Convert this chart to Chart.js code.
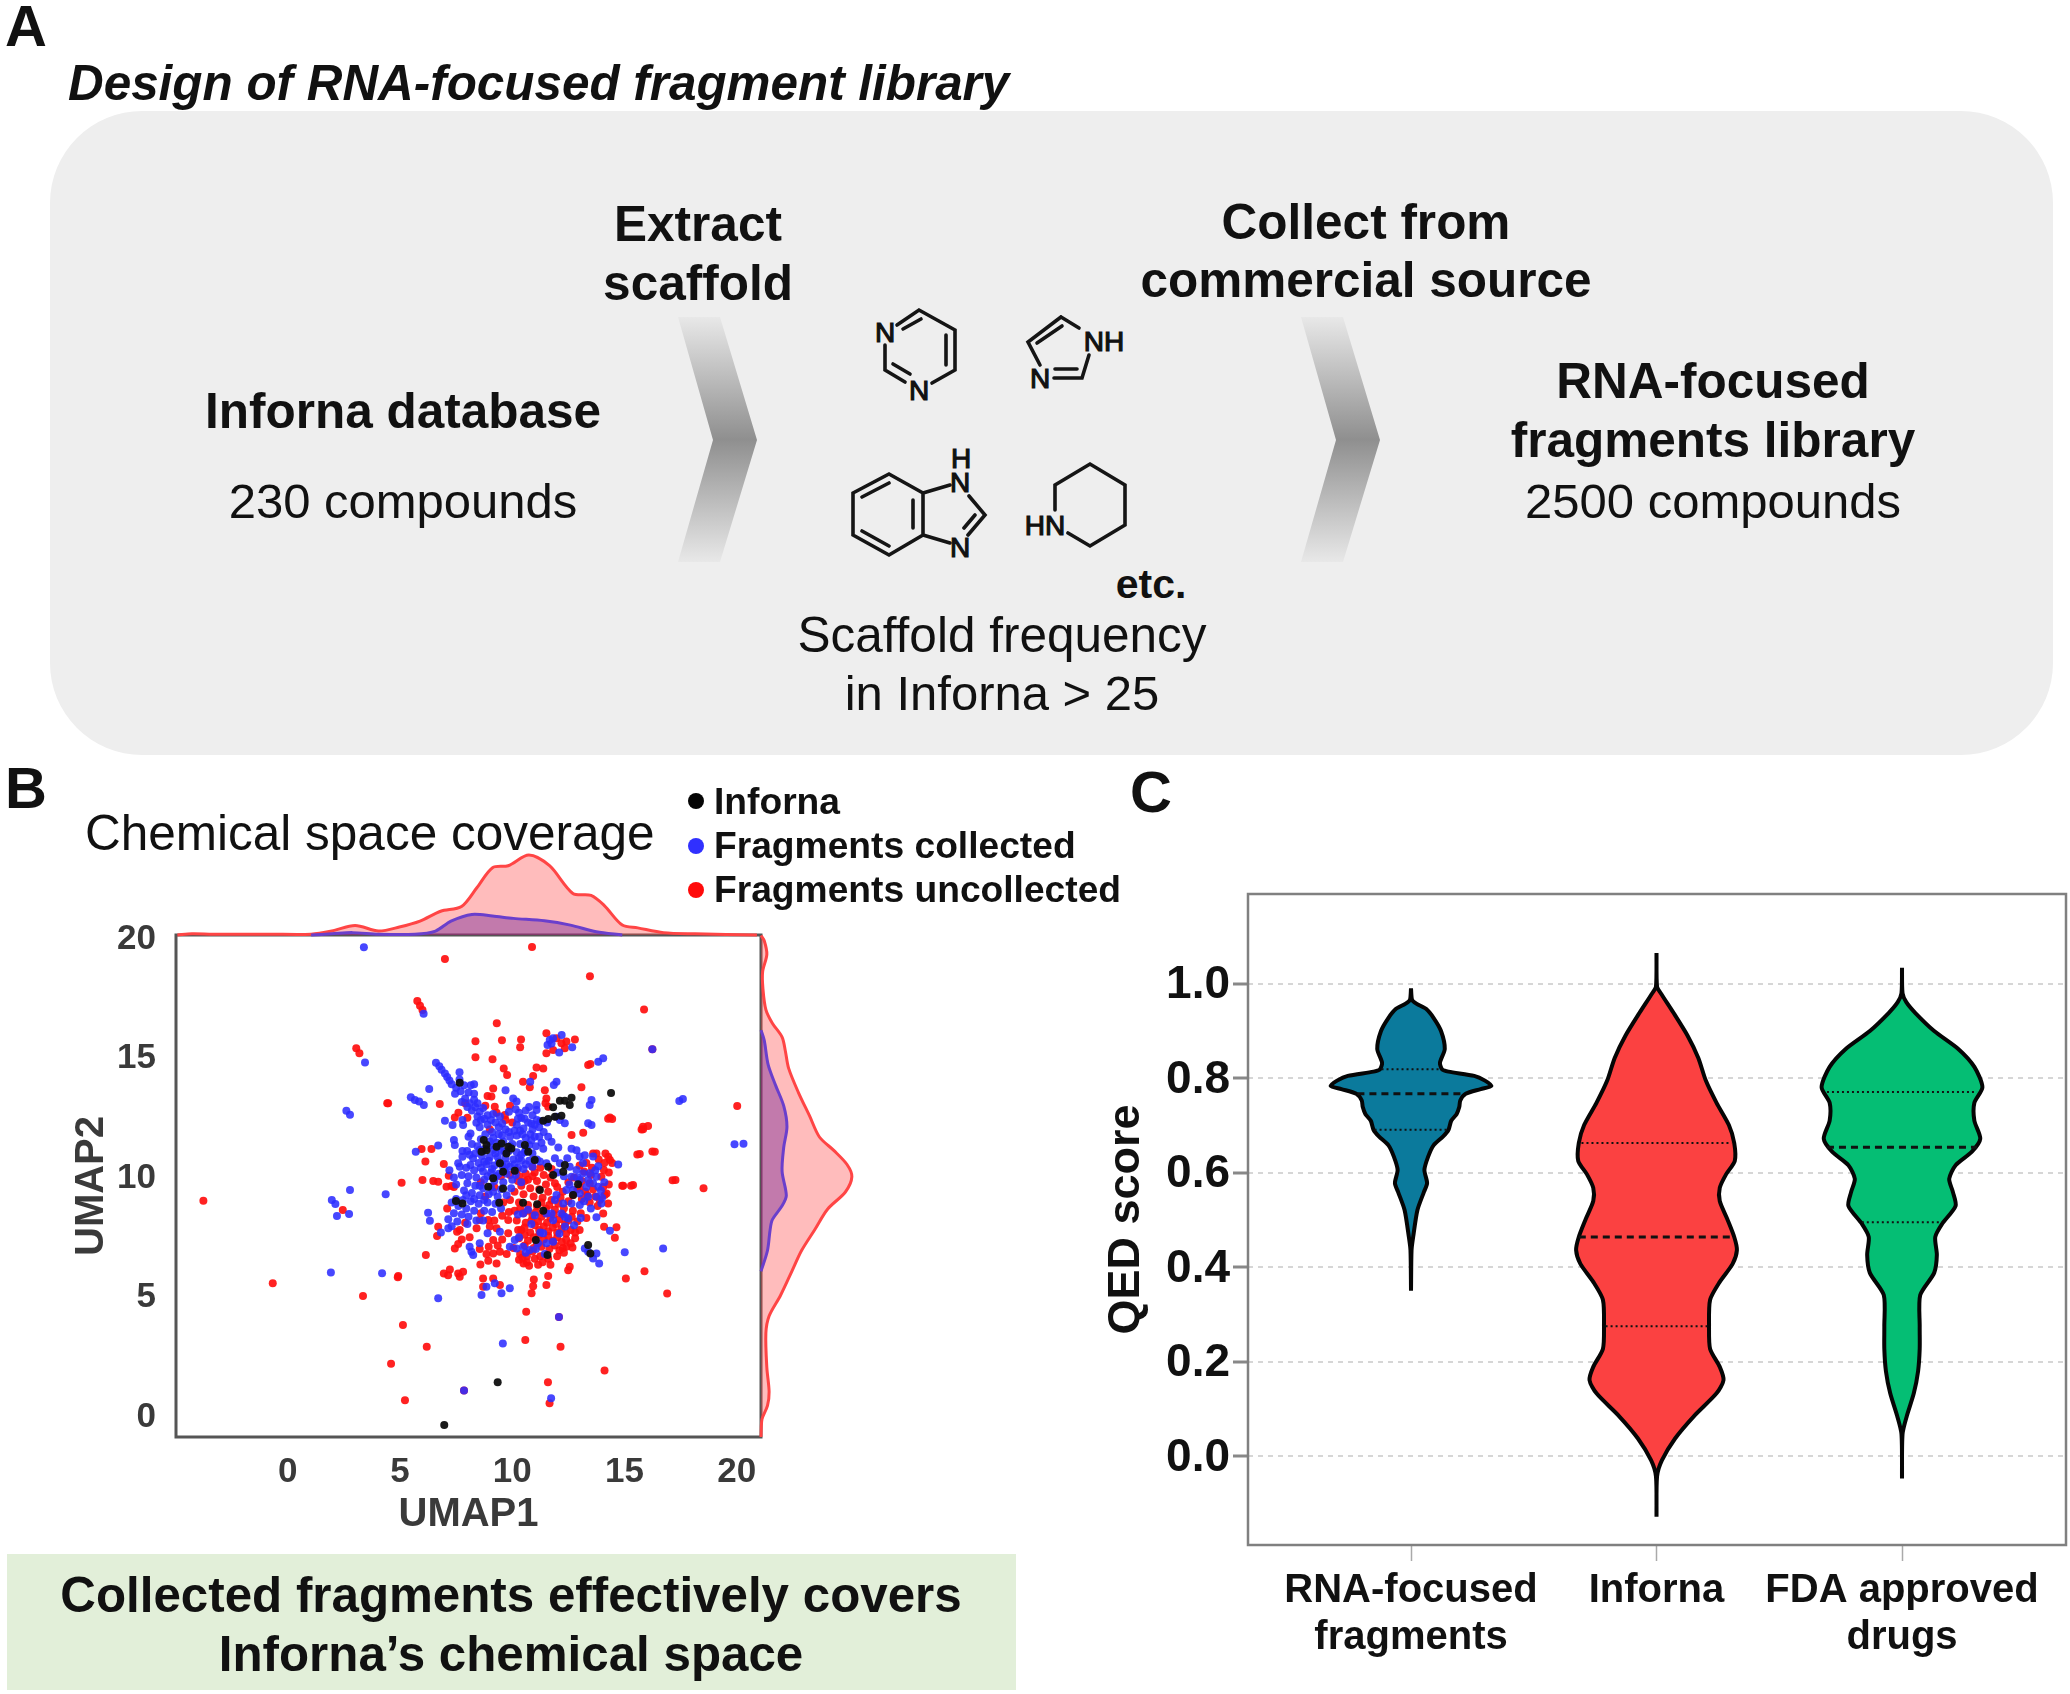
<!DOCTYPE html>
<html><head><meta charset="utf-8">
<script src="https://cdn.jsdelivr.net/npm/chart.js@4"></script>
<style>
html,body{margin:0;padding:0;background:#fff;}
#page{position:relative;width:2070px;height:1694px;overflow:hidden;font-family:"Liberation Sans",Arial,sans-serif;color:#111;filter:blur(0.5px);}
canvas{position:absolute;}
.t{position:absolute;white-space:nowrap;transform:translate(-50%,-50%);line-height:1;}
.l{position:absolute;white-space:nowrap;transform:translateY(-50%);line-height:1;}
.b{font-weight:bold;}
.dot{position:absolute;width:16px;height:16px;border-radius:50%;transform:translate(-50%,-50%);}
#panel{position:absolute;left:50px;top:111px;width:2003px;height:644px;background:#eeeeee;border-radius:92px;}
#note{position:absolute;left:7px;top:1554px;width:1009px;height:136px;background:#e2efd9;}
svg{position:absolute;left:0;top:0;}
</style></head><body><div id="page">
<div id="panel"></div><div id="note"></div>
<svg width="2070" height="1694" viewBox="0 0 2070 1694">
<defs><linearGradient id="g" x1="0" y1="0" x2="0" y2="1"><stop offset="0" stop-color="#e8e8e8"/><stop offset="0.5" stop-color="#8f8f8f"/><stop offset="1" stop-color="#e8e8e8"/></linearGradient></defs>
<polygon points="678,317 720,317 757,440 720,562 678,562 713,440" fill="url(#g)"/>
<polygon points="1301,317 1343,317 1380,440 1343,562 1301,562 1336,440" fill="url(#g)"/>
<g stroke="#151515" stroke-width="3.6" fill="none" stroke-linecap="round">
<path d="M897 325L919 310L955 330V370L932 383M903 329L921 319M946 335V365M885 345V370L905 382M893 364L910 374"/>
<path d="M1061 317L1079 328M1089 355L1082 378H1054M1077 369H1055M1040 365L1028 342L1061 317M1037 343L1062 326"/>
<path d="M889 474L923 493V535L889 555L853 535V493ZM862 497L889 483M862 531L889 546M913 500V528M923 493L950 485M923 535L950 543M969 496L985 515L968 535M975 515L964 528"/>
<path d="M1068 533L1090 546L1125 525V485L1090 464L1055 485V510"/>
</g>
<g font-family="Liberation Sans" font-size="28" fill="#111" stroke="#111" stroke-width="1.2" text-anchor="middle">
<text x="885" y="342">N</text><text x="919" y="400">N</text><text x="1104" y="351">NH</text><text x="1040" y="388">N</text>
<text x="961" y="468">H</text><text x="960" y="492">N</text><text x="960" y="557">N</text><text x="1045" y="535">HN</text>
</g></svg>

<div class="t b" style="left:26px;top:26px;font-size:58px;">A</div>
<div class="l b" style="left:68px;top:83px;font-size:49.4px;font-style:italic;">Design of RNA-focused fragment library</div>
<div class="t b" style="left:403px;top:411px;font-size:49.5px;">Inforna database</div>
<div class="t" style="left:403px;top:501px;font-size:49px;">230 compounds</div>
<div class="t b" style="left:698px;top:224px;font-size:49.5px;">Extract</div>
<div class="t b" style="left:698px;top:283px;font-size:49.5px;">scaffold</div>
<div class="t b" style="left:1366px;top:222px;font-size:49.5px;">Collect from</div>
<div class="t b" style="left:1366px;top:280px;font-size:49.5px;">commercial source</div>
<div class="t b" style="left:1713px;top:381px;font-size:49.5px;">RNA-focused</div>
<div class="t b" style="left:1713px;top:440px;font-size:49.5px;">fragments library</div>
<div class="t" style="left:1713px;top:501px;font-size:49px;">2500 compounds</div>
<div class="t b" style="left:1151px;top:584px;font-size:41px;">etc.</div>
<div class="t" style="left:1002px;top:635px;font-size:49.5px;">Scaffold frequency</div>
<div class="t" style="left:1002px;top:693px;font-size:49px;">in Inforna &gt; 25</div>

<div class="t b" style="left:26px;top:788px;font-size:58px;">B</div>
<div class="t b" style="left:1151px;top:792px;font-size:58px;">C</div>
<div class="l" style="left:85px;top:833px;font-size:49.5px;">Chemical space coverage</div>
<div class="dot" style="left:696px;top:801px;background:#050505;"></div>
<div class="dot" style="left:696px;top:846px;background:#3030ff;"></div>
<div class="dot" style="left:696px;top:890px;background:#ff0a0a;"></div>
<div class="l b" style="left:714px;top:802px;font-size:37.2px;">Inforna</div>
<div class="l b" style="left:714px;top:846px;font-size:37.2px;">Fragments collected</div>
<div class="l b" style="left:714px;top:890px;font-size:37.2px;">Fragments uncollected</div>
<div class="t b" style="left:511px;top:1595px;font-size:49.3px;">Collected fragments effectively covers</div>
<div class="t b" style="left:511px;top:1654px;font-size:49.3px;">Inforna’s chemical space</div>

<canvas id="scatter" width="720" height="640" style="left:60px;top:905px;"></canvas>
<canvas id="topKde" width="610" height="100" style="left:166px;top:840px;"></canvas>
<canvas id="rightKde" width="110" height="520" style="left:755px;top:925px;"></canvas>
<canvas id="violin" width="970" height="814" style="left:1100px;top:880px;"></canvas>
</div>
<script>
// ---------- Panel B: scatter values ----------
const umapXTicks=[0,5,10,15,20];
const umapYTicks=[0,5,10,15,20];
const inforna=[[6.97,-0.46],[9.35,1.33],[14.4,13.43],[12.64,13.23],[12.56,12.93],[12.34,13.11],[12.12,13.11],[11.82,12.83],[12.19,12.48],[11.9,12.44],[11.6,12.34],[11.38,12.27],[7.66,13.86],[8.73,11.46],[8.85,11.25],[9.3,11.18],[9.52,11.32],[9.82,11.18],[9.96,11.11],[9.74,10.9],[8.85,11.04],[8.63,10.97],[10.56,11.25],[10.71,10.97],[9.45,10.49],[9.59,10.14],[10.11,10.18],[11.0,10.63],[11.6,10.35],[11.82,10.0],[12.34,10.42],[12.27,10.14],[9.15,9.86],[9.59,9.44],[8.93,9.51],[11.23,9.37],[12.93,9.61],[12.71,9.16],[7.49,8.91],[7.78,8.81],[9.42,8.84],[10.48,8.84],[11.11,8.78],[11.38,8.5],[11.05,7.28],[13.38,7.07],[13.48,6.72],[11.57,6.65]];
const collected=[[1.92,5.92],[4.2,5.89],[4.36,9.2],[9.58,2.95],[16.72,6.93],[15.01,6.77],[17.44,13.1],[17.6,13.18],[19.9,11.29],[20.3,11.31],[3.39,19.53],[6.05,16.75],[3.44,14.71],[2.77,12.52],[2.61,12.69],[1.96,8.95],[2.12,8.79],[2.19,8.29],[2.73,8.37],[2.77,9.37],[11.73,0.66],[7.85,0.99],[16.24,15.26],[12.08,4.06],
[6.6,14.7],[6.85,14.4],[7.1,14.1],[7.3,13.8],[7.65,14.3],[7.65,14.0],[7.45,13.4],[7.7,13.5],[7.9,13.2],[8.3,13.8],[8.3,13.4],[8.1,13.0],[8.45,13.0],[8.2,12.7],[8.7,12.8],[8.9,12.5],[8.6,12.3],[8.9,12.1],[9.7,13.55],[10.8,13.9],[11.97,13.9],[11.85,13.76],[13.53,13.14],[13.45,12.93],[13.83,14.74],[14.05,14.88],[11.67,15.65],[11.57,15.44],[11.82,15.72],[11.75,15.5],[12.2,15.86],[12.09,15.12],[12.67,15.34],[5.48,13.25],[5.66,13.14],[5.85,13.07],[6.06,12.93],[6.3,13.6],[10.04,13.2],[10.19,13.07],[11.08,12.93],[11.08,12.72],[13.53,12.09],[13.38,12.16],[11.6,11.6],[11.75,11.39],[12.12,12.3],[12.34,12.16],[11.97,12.44],
[7,12.27],[7.34,12.09],[7.78,12.3],[7.81,12.09],[8.14,11.74],[8.4,12.19],[7.4,11.46],[7.44,11.25],[6.7,11.23],[5.7,10.97],[7.78,11.0],[7.99,11.0],[7.78,10.76],[7.59,10.49],[7.66,10.35],[8.14,10.42],
[10.6,12.7],[10.9,12.5],[10.4,12.4],[10.7,12.2],[11.1,12.3],[10.2,12.1],[10.5,11.95],[10.9,11.9],[11.2,12.0],[9.4,12.0],[9.7,11.9],[9.1,11.8],[8.8,11.7],[9.4,11.7],[9.9,11.6],[10.2,11.65],[10.6,11.55],[11.0,11.6],[8.6,11.5],[9.0,11.4],[9.3,11.35],[9.6,11.4],[10.0,11.3],[10.35,11.3],[10.75,11.25],[11.05,11.2],[8.45,11.2],[8.8,11.1],[9.15,11.05],[9.5,11.05],[9.85,11.0],[10.2,10.95],[10.55,10.95],[10.9,10.9],[8.35,10.9],[8.65,10.8],[9.0,10.75],[9.35,10.75],[9.7,10.7],[10.05,10.65],[10.4,10.6],[10.75,10.6],[11.1,10.65],[8.5,10.5],[8.85,10.45],[9.2,10.4],[9.55,10.4],[9.9,10.35],[10.25,10.3],[8.3,10.2],[8.7,10.15],[9.05,10.1],[9.4,10.05],[9.75,10.05],[10.15,10.0],
[8.05,9.95],[8.4,9.9],[8.75,9.8],[9.2,9.75],[9.6,9.7],[8.0,9.65],[8.35,9.55],[8.7,9.45],[9.05,9.5],[9.5,9.4],[7.85,9.35],[8.2,9.25],[8.55,9.15],[8.95,9.2],[9.35,9.1],[9.75,9.15],[7.5,9.0],[7.8,8.95],[8.15,8.9],[8.5,8.8],[8.9,8.85],[9.25,8.8],[7.3,8.85],[7.6,8.7],[7.95,8.6],[8.3,8.5],[8.75,8.5],[9.1,8.45],[7.75,8.35],[8.05,8.25],[8.4,8.1],[8.0,7.95],[6.25,8.42],[6.33,8.09],[6.82,7.6],[7.3,7.86],[7.15,7.77],[8.1,7.0],[8.18,6.79],[8.26,6.65],[8.55,7.14],[8.9,7.56],[9.45,7.63],
[11.38,11.1],[11.23,10.56],[11.52,10.49],[12.12,10.49],[12.64,11.1],[12.86,11.04],[13.0,10.77],[13.23,10.83],[13.6,10.77],[13.83,10.37],[14.72,10.44],[12.56,10.35],[12.86,10.21],[13.16,10.07],[13.45,10.07],[13.75,9.93],[12.64,9.93],[13.01,9.79],[13.38,9.79],[13.83,9.51],[12.41,9.37],[12.71,9.37],[13.01,9.23],[13.38,9.09],[13.75,9.09],[13.97,8.81],[11.97,9.16],[12.27,8.81],[12.64,8.81],[13.01,8.74],[11.9,8.95],[12.19,8.39],[12.49,8.18],[11.82,8.11],[12.34,8.25],[11.52,8.39],[11.0,8.32],[10.48,8.39],[11.38,7.56],[11.82,7.21],[11.75,8.39],
[9.89,7.0],[10.19,6.93],[10.48,7.0],[10.78,6.86],[11.15,7.14],[11.52,7.14],[10.11,7.28],[14.35,7.67],[13.75,8.23],[13.23,6.93],[13.38,6.79],[13.75,6.72],[13.6,6.51],[13.87,6.3],[8.85,5.33],[9.22,5.47],[9.52,5.05],[9.89,5.26],[8.63,4.98],[6.7,4.84],
[9.05,12.3],[9.45,12.45],[9.85,12.65],[10.15,12.75],[8.55,12.0],[9.25,12.2],[10.85,12.15],[11.4,11.8],[11.3,11.35],[11.55,12.2],[8.2,11.3],[8.05,11.6],[8.25,10.7],[8.1,10.85],[9.15,11.55],[9.55,11.65],[10.1,11.85],[10.45,11.7],[10.85,11.45],[9.9,11.2],[9.25,10.9],[9.65,10.95],[10.4,10.85],[10.1,10.45],[8.95,10.6],[9.4,10.55],[8.6,10.3],[9.1,10.25],[9.65,10.2],[10.5,10.25],[10.9,10.35],
[7.2,10.2],[7.4,9.9],[7.75,10.0],[7.5,9.6],[7.95,10.3],[8.9,9.95],[9.3,9.95],[8.55,9.55],[9.15,9.3],[7.95,9.15],[8.3,9.0],[8.75,8.95],[9.5,8.6],[7.4,8.4],[7.15,8.15],[7.55,8.05],[8.7,8.1],[10.0,9.8],[10.4,9.7],[9.95,9.45],[10.7,8.55],[10.25,8.35],[10.85,7.95],[10.3,7.4],[11.25,7.6],[11.05,6.9],[11.45,6.7],[10.6,6.75],[12.1,7.55],[12.35,7.85],[12.75,7.9],[13.05,8.2],[12.55,9.6],[12.3,9.95],[12.9,9.9],[13.3,9.5],[13.6,9.65],[13.95,9.35],[13.2,8.9],[13.5,8.6],[12.0,10.1],[12.45,10.7],[11.9,10.7],[12.05,11.15],[13.15,10.5],[13.7,10.2],[14.1,9.7],[14.0,9.05],
[6.75,14.55],[7.0,14.25],[7.2,13.95],[7.5,13.65],[7.85,13.75],[8.05,13.45],[8.15,13.75],[7.75,13.05],[8.0,12.85],[8.3,13.15],[8.55,12.65],[8.45,12.45],[8.75,12.35],[9.15,12.55],[8.35,12.85],[10.3,12.6],[10.55,12.35],[10.25,12.35],[10.75,12.85],[11.0,12.1],[11.25,12.25],[10.35,11.85],[9.55,12.15],[9.85,11.8],[10.8,11.7],[11.2,11.6],[10.6,11.1],[9.05,11.25],[9.4,11.2],[8.55,11.05],[8.75,10.55],[9.75,10.45],[10.3,10.7],[10.6,10.45]];
const uncollected=[[-3.76,8.92],[-0.67,5.47],[3.35,4.94],[4.9,5.72],[5.13,3.73],[6.19,2.82],[4.6,2.1],[5.22,0.58],[10.58,3.1],[10.62,4.28],[12.15,2.82],[14.11,1.82],[11.59,1.33],[11.66,0.45],[15.06,5.67],[15.89,5.97],[16.9,5.04],[17.14,9.78],[18.52,9.45],[20.02,12.89],[16.24,10.98],[15.57,10.86],[15.82,12.02],[15.76,11.9],[14.27,12.35],[15.87,16.92],[13.46,18.31],[10.88,19.54],[7.0,19.04],[5.77,17.28],[5.89,17.08],[6.0,16.9],[3.05,15.3],[3.19,15.09],[9.31,16.35],[8.36,15.6],[9.54,15.64],[10.39,15.67],[10.35,15.34],[8.36,14.93],[9.12,14.84],[4.43,13.0],[15.29,9.55],[14.9,9.55],[2.45,8.54],[7.85,0.99],[16.24,15.26],[12.08,4.06],
[11.52,15.93],[11.97,15.72],[12.19,15.51],[12.41,15.58],[12.79,15.67],[12.34,15.3],[11.82,15.23],[11.52,15.09],[11.08,14.5],[11.38,14.46],[13.38,14.6],[13.48,14.64],[9.62,14.46],[9.77,14.18],
[10.48,13.9],[10.93,14.14],[10.78,13.67],[11.45,13.55],[11.52,13.2],[11.48,13.0],[11.6,12.86],[13.08,13.67],[9.15,13.62],[9.07,13.28],[9.22,12.86],[9.67,12.51],[14.35,12.41],[14.45,12.34],[12.64,11.67],[13.16,11.77],[15.83,11.91],[16.05,12.05],[15.68,10.88],[16.35,10.97],[14.94,9.55],[15.38,9.58],[17.27,9.79],[4.47,13.0],[6.77,12.97],[7.44,12.41],[5.96,11.09],[6.4,11.09],[6.13,10.57],[6.95,10.46],[7.17,9.97],[6.0,9.79],[5.07,9.68],[6.48,9.75],[6.7,9.72],[7.07,9.51],[7.29,9.54],[4.92,5.77],[6.15,6.65],[6.65,7.45],[6.7,7.84],[7.54,7.63],[7.66,7.7],[7.59,7.11],[7.44,6.93],[8.41,7.77],[8.58,6.26],[8.93,6.41],[9.15,7.28],[9.15,6.72],[9.45,6.79],[9.3,7.77],[8.93,8.12],[8.55,8.12],[9.82,8.12],[10.26,7.7],[9.82,7.56],[14.09,7.84],[14.64,7.81],[14.57,7.38],[14.05,8.39],[14.27,8.81],[14.12,9.16],[12.41,7.0],[12.68,6.97],[12.56,6.16],[12.49,6.02],[10.86,5.05],[10.96,5.63],[10.93,5.35],[11.6,5.77],[11.52,5.4],[8.7,5.67],[9.15,5.67],[6.95,5.88],[7.22,6.05],[7.59,5.88],[7.81,5.95],[7.14,5.81],[7.66,5.74],[9.45,5.4],[8.7,5.33],
[11.0,10.1],[11.4,10.0],[11.7,9.9],[10.7,9.8],[11.1,9.75],[11.5,9.6],[10.4,9.55],[10.8,9.45],[11.2,9.4],[11.6,9.3],[12.0,9.5],[10.1,9.3],[10.5,9.2],[10.95,9.1],[11.35,9.05],[11.75,8.95],[12.15,9.05],[12.5,8.9],[9.9,8.95],[10.3,8.85],[10.7,8.75],[11.1,8.7],[11.5,8.6],[11.9,8.55],[12.3,8.6],[12.7,8.5],[13.05,8.4],[10.1,8.5],[10.5,8.4],[10.9,8.3],[11.3,8.25],[11.7,8.2],[12.1,8.15],[12.5,8.1],[12.9,8.05],[13.3,8.2],[10.2,8.1],[10.6,8.0],[11.0,7.9],[11.4,7.85],[11.8,7.8],[12.2,7.75],[12.6,7.7],[13.0,7.7],[10.4,7.7],[10.8,7.6],[11.2,7.5],[11.6,7.45],[12.0,7.4],[12.4,7.3],[12.8,7.35],[10.3,7.35],[10.7,7.25],[11.1,7.15],[11.9,7.05],[12.25,6.95],[10.05,6.95],[10.35,6.7],[10.65,6.6],[11.0,6.5],[10.5,6.3],[10.75,6.2],[10.3,6.45],[11.35,6.35],[11.7,6.25],[12.0,6.6],[12.3,6.75],
[13.6,10.9],[13.75,10.9],[14.27,10.76],[14.35,10.63],[14.1,10.5],[14.08,10.21],[13.97,9.93],[14.05,9.5],[14.2,9.23],[13.9,8.95],[13.0,10.4],[13.3,10.5],[13.55,10.3],[12.75,9.9],[13.1,9.75],[13.45,9.65],[12.5,9.7],[12.9,9.4],[13.25,9.3],[13.6,9.4],[12.7,9.15],[13.1,9.0],[13.45,8.85],[13.8,8.7],
[9.9,12.9],[10.0,12.2],[9.3,12.6],[9.7,12.3],[8.8,12.9],[8.9,13.3],[7.9,13.0],[8.0,12.4],[7.6,12.6],[9.0,11.9],[9.9,10.0],[10.3,9.95],[10.6,10.05],[9.5,9.95],[8.6,9.7],[9.2,9.5],[8.8,9.1],[9.6,8.85],[8.6,8.4],[9.2,8.1],[7.4,9.5],[7.1,8.6],
[10.9,10.35],[11.25,10.3],[11.75,10.25],[10.2,10.2],[10.55,9.75],[10.9,9.95],[10.25,9.75],[11.9,9.65],[12.25,9.3],[11.3,8.85],[11.65,8.75],[12.05,8.8],[10.35,8.6],[10.7,8.5],[11.05,8.45],[11.45,8.4],[11.85,8.35],[12.25,8.35],[12.65,8.25],[10.85,8.1],[11.15,8.05],[11.55,8.0],[11.95,7.95],[12.35,7.95],[10.55,7.8],[11.2,7.7],[11.6,7.65],[12.0,7.6],[12.4,7.55],[12.8,7.6],[10.55,7.5],[10.95,7.4],[11.4,7.3],[11.8,7.25],[12.2,7.2],[12.6,7.15],[10.55,7.05],[10.95,6.95],[11.3,7.0],[11.65,6.9],[12.1,6.85],[10.65,6.35],[11.15,6.25],[10.9,6.8],[10.45,6.55],[11.25,6.6],[11.6,6.5],[13.0,9.5],[13.35,9.15],[13.7,9.1],[13.2,10.15],[13.5,10.0],[13.85,10.65],[14.15,10.9],[14.45,10.5],[14.3,10.1],[14.3,9.6],[8.55,6.9],[8.95,7.0],[9.35,7.05],[9.55,7.3],[9.0,7.85],[9.55,8.3],[9.85,8.45],[8.85,6.7],[7.75,7.3],[8.1,7.4],[9.75,6.7],[9.3,6.3],[7.9,8.0]];

// ---------- Panel B: marginal densities ----------
const kdeTopRedX=[-4.92,-4.27,-3.35,-0.81,1.04,1.96,3.0,4.04,4.97,5.89,6.81,7.74,8.43,9.12,9.82,10.74,11.66,12.7,13.51,14.09,14.9,15.59,16.74,18.13,20.9];
const kdeTopRed=[0,0.03,0.02,0.02,0.02,0.1,0.24,0.1,0.2,0.35,0.6,0.72,1.2,1.7,1.75,2.02,1.75,1.05,1.0,0.75,0.25,0.18,0.06,0.03,0];
const kdeTopBlueX=[1.04,1.96,2.88,4.04,5.66,6.58,7.27,8.2,9.12,10.05,11.43,12.59,13.74,14.9];
const kdeTopBlue=[0,0.03,0.06,0.02,0.02,0.1,0.35,0.52,0.48,0.42,0.36,0.25,0.08,0];
const kdeRightRedY=[20.02,19.8,19.23,18.5,17.79,16.92,16.35,15.77,15.19,14.47,13.46,12.46,11.59,11.02,10.44,9.93,9.29,8.57,7.7,6.84,5.97,4.96,4.1,3.38,1.94,0.93,0.35,-0.22,-0.96];
const kdeRightRed=[0,0.1,0.18,0.05,0.06,0.15,0.35,0.65,0.75,0.85,1.15,1.5,1.8,2.25,2.65,2.8,2.6,2.05,1.65,1.25,0.95,0.6,0.25,0.15,0.18,0.25,0.2,0.03,0];
const kdeRightBlueY=[16.06,15.63,14.62,13.75,12.89,12.02,11.16,10.15,9.14,8.71,8.13,7.7,6.84,5.97];
const kdeRightBlue=[0,0.1,0.22,0.45,0.7,0.8,0.7,0.65,0.78,0.65,0.35,0.28,0.2,0];

// ---------- Panel C: violins ----------
const qedTicks=[0,0.2,0.4,0.6,0.8,1.0];
const qedCategories=[['RNA-focused','fragments'],['Inforna'],['FDA approved','drugs']];
const rnaLevels=[0.99,0.966,0.958,0.947,0.928,0.9,0.862,0.833,0.819,0.814,0.805,0.795,0.784,0.777,0.767,0.753,0.739,0.724,0.71,0.691,0.677,0.658,0.634,0.606,0.578,0.559,0.521,0.464,0.436,0.35];
const rnaDensity=[0,0.02,0.1,0.28,0.42,0.56,0.63,0.54,0.58,0.7,1.18,1.38,1.5,1.3,1.02,0.92,0.9,0.85,0.75,0.7,0.6,0.42,0.32,0.25,0.3,0.24,0.12,0.04,0.01,0];
const infLevels=[1.065,0.994,0.98,0.938,0.89,0.843,0.795,0.748,0.701,0.663,0.625,0.597,0.568,0.54,0.502,0.464,0.436,0.407,0.369,0.331,0.275,0.227,0.189,0.161,0.133,0.085,0.038,-0.009,-0.043,-0.128];
const infDensity=[0,0.01,0.08,0.32,0.58,0.78,0.92,1.12,1.35,1.45,1.46,1.3,1.18,1.18,1.32,1.45,1.5,1.42,1.18,1.0,0.98,1.0,1.18,1.25,1.12,0.7,0.35,0.1,0.01,0];
const fdaLevels=[1.034,0.98,0.961,0.938,0.9,0.862,0.824,0.781,0.748,0.71,0.672,0.644,0.616,0.587,0.559,0.53,0.492,0.464,0.426,0.388,0.341,0.275,0.227,0.18,0.133,0.085,0.047,-0.047];
const fdaDensity=[0,0.01,0.08,0.25,0.6,1.05,1.35,1.5,1.35,1.35,1.46,1.3,1.0,0.88,0.95,1.0,0.75,0.62,0.65,0.6,0.34,0.33,0.33,0.3,0.22,0.09,0.01,0];
const rnaQuartiles=[0.819,0.767,0.691], rnaQuartileDensity=[0.55,1.0,0.68];
const infQuartiles=[0.663,0.464,0.275], infQuartileDensity=[1.4,1.45,0.95];
const fdaQuartiles=[0.771,0.654,0.495], fdaQuartileDensity=[1.4,1.4,0.75];

const FONT='"Liberation Sans", Arial, sans-serif';
const frame=(color,w)=>({id:'frame',afterDatasetsDraw(c){const a=c.chartArea,x=c.ctx;x.save();x.strokeStyle=color;x.lineWidth=w;x.strokeRect(a.left,a.top,a.right-a.left,a.bottom-a.top);x.restore();}});
const base={responsive:false,animation:false,events:[],plugins:{legend:{display:false},tooltip:{enabled:false}}};
const pts=a=>a.map(p=>({x:p[0],y:p[1]}));
const setTicks=v=>s=>{s.ticks=v.map(t=>({value:t}));};
const fix=(prop,size)=>s=>{s[prop]=size;s.paddingTop=s.paddingBottom=s.paddingLeft=s.paddingRight=0;};

new Chart(document.getElementById('scatter'),{type:'scatter',
 data:{datasets:[
  {label:'Inforna',data:pts(inforna),backgroundColor:'rgba(15,15,15,0.95)',order:0},
  {label:'Fragments collected',data:pts(collected),backgroundColor:'rgba(45,45,255,0.88)',order:1},
  {label:'Fragments uncollected',data:pts(uncollected),backgroundColor:'rgba(255,15,15,0.92)',order:2}]},
 options:{...base,layout:{padding:{top:30,right:19,left:0,bottom:0}},
  elements:{point:{radius:4,borderWidth:0}},
  scales:{
   x:{type:'linear',min:-4.98,max:21.08,grid:{display:false},border:{display:false},afterBuildTicks:setTicks(umapXTicks),
      afterFit:fix('height',108),
      ticks:{font:{family:FONT,size:35,weight:'bold'},color:'#3a3a3a',padding:6,maxRotation:0,callback:v=>String(v)},
      title:{display:true,text:'UMAP1',font:{family:FONT,size:40,weight:'bold'},color:'#3a3a3a',padding:{top:0,bottom:6}}},
   y:{type:'linear',min:-0.96,max:20.04,grid:{display:false},border:{display:false},afterBuildTicks:setTicks(umapYTicks),
      afterFit:fix('width',116),
      ticks:{font:{family:FONT,size:35,weight:'bold'},color:'#3a3a3a',padding:12,labelOffset:3,callback:v=>String(v)},
      title:{display:true,text:'UMAP2',font:{family:FONT,size:40,weight:'bold'},color:'#3a3a3a',padding:{top:8,bottom:0}}}}},
 plugins:[frame('#555',3)]});

const series=(xs,ys)=>xs.map((x,i)=>({x,y:ys[i]}));
const kde=(data,line,fill,order)=>({data,borderColor:line,backgroundColor:fill,fill:'shape',showLine:true,borderWidth:3,pointRadius:0,tension:0.3,clip:false,order});
new Chart(document.getElementById('topKde'),{type:'scatter',
 data:{datasets:[
  kde(series(kdeTopBlueX,kdeTopBlue),'#6a3fcc','rgba(110,30,150,0.42)',0),
  kde(series(kdeTopRedX,kdeTopRed),'#ff4545','rgba(255,70,70,0.36)',1)]},
 options:{...base,layout:{padding:{left:10,right:15,top:0,bottom:5}},
  scales:{x:{display:false,type:'linear',min:-4.98,max:21.08},y:{display:false,min:0,max:2.4}}}});
new Chart(document.getElementById('rightKde'),{type:'scatter',
 data:{datasets:[
  kde(series(kdeRightBlue,kdeRightBlueY),'#6a3fcc','rgba(110,30,150,0.42)',0),
  kde(series(kdeRightRed,kdeRightRedY),'#ff4545','rgba(255,70,70,0.36)',1)]},
 options:{...base,layout:{padding:{left:6,right:5,top:10,bottom:8}},
  scales:{x:{display:false,type:'linear',min:0,max:3.05},y:{display:false,min:-0.96,max:20.04}}}});

// Violin outline: density mirrored around the category position
const vScale=1/4.58;
const outline=(pos,levels,dens)=>[...levels.map((q,i)=>({x:pos-dens[i]*vScale,y:q})),...levels.slice().reverse().map((q,i)=>({x:pos+dens[levels.length-1-i]*vScale,y:q}))];
const violin=(pos,l,d,color)=>({data:outline(pos,l,d),showLine:true,fill:'shape',backgroundColor:color,borderColor:'#050505',borderWidth:4,pointRadius:0,tension:0.25,order:2});
const quart=(pos,levels,dens)=>levels.map((q,i)=>({data:[{x:pos-dens[i]*vScale,y:q},{x:pos+dens[i]*vScale,y:q}],showLine:true,pointRadius:0,borderColor:'#111',
   borderWidth:i===1?3:2,borderDash:i===1?[7,5]:[2,3],fill:false,order:1}));
new Chart(document.getElementById('violin'),{type:'scatter',
 data:{datasets:[
  violin(1,rnaLevels,rnaDensity,'#0b7a9c'),violin(2,infLevels,infDensity,'#fb4141'),violin(3,fdaLevels,fdaDensity,'#05be74'),
  ...quart(1,rnaQuartiles,rnaQuartileDensity),...quart(2,infQuartiles,infQuartileDensity),...quart(3,fdaQuartiles,fdaQuartileDensity)]},
 options:{...base,layout:{padding:{top:14,right:4,left:0,bottom:0}},
  scales:{
   x:{type:'linear',min:0.336,max:3.668,border:{display:false},afterBuildTicks:setTicks([1,2,3]),afterFit:fix('height',149),
      grid:{drawOnChartArea:false,drawTicks:true,tickLength:16,tickColor:'#aaa',tickWidth:1.5},
      ticks:{font:{family:FONT,size:40,weight:'bold',lineHeight:1.18},color:'#111',padding:6,maxRotation:0,autoSkip:false,callback:v=>qedCategories[v-1]}},
   y:{type:'linear',min:-0.188,max:1.19,border:{display:false,dash:[5,5]},afterBuildTicks:setTicks(qedTicks),afterFit:fix('width',148),
      grid:{color:'#d6d6d6',lineWidth:2,tickLength:15,tickColor:'#888',tickWidth:3,tickBorderDash:[]},
      ticks:{font:{family:FONT,size:46,weight:'bold'},color:'#111',padding:3,labelOffset:2,callback:v=>v.toFixed(1)},
      title:{display:true,text:'QED score',font:{family:FONT,size:45,weight:'bold'},color:'#111',padding:{top:0,bottom:0}}}}},
 plugins:[frame('#808080',2.5)]});
</script></body></html>
